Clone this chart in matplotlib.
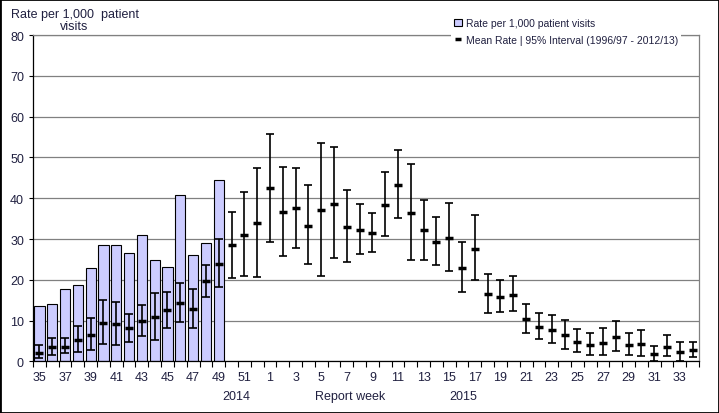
import numpy as np
import matplotlib
matplotlib.use('Agg')
import matplotlib.pyplot as plt
from matplotlib.patches import Patch, Rectangle
from matplotlib.lines import Line2D

plt.rcParams['font.family'] = ['Liberation Sans', 'DejaVu Sans']

# report weeks 35-52 of 2014 then 1-34 of 2015
weeks = list(range(35, 53)) + list(range(1, 35))

# rate per 1,000 patient visits (weeks 35-49 only)
rate = [13.5, 14.0, 17.7, 18.7, 22.8, 28.5, 28.5, 26.5, 30.9, 24.8, 23.1, 40.7, 26.0, 29.0, 44.4]

# mean rate 1996/97 - 2012/13
mean_rate = [2.2, 3.6, 3.6, 5.3, 6.6, 9.5, 9.3, 8.3, 10.0, 11.0, 12.7, 14.4, 12.9, 19.8, 24.0, 28.6, 31.1, 34.0,
             42.4, 36.7, 37.5, 33.3, 37.2, 38.7, 33.0, 32.3, 31.6, 38.4,
             43.3, 36.5, 32.1, 29.4, 30.3, 23.0, 27.6, 16.6, 15.9, 16.4,
             10.5, 8.5, 7.8, 6.6, 4.9, 4.1, 4.6, 6.1, 4.1, 4.4,
             1.9, 3.6, 2.4, 2.9]
upper = [4.0, 5.7, 5.7, 8.6, 10.7, 15.1, 14.7, 11.7, 13.9, 16.9, 17.1, 19.3, 17.8, 23.7, 29.9, 36.7, 41.5, 47.5,
         55.8, 47.6, 47.3, 43.2, 53.6, 52.5, 42.0, 38.5, 36.3, 46.4,
         51.8, 48.3, 39.5, 35.3, 38.8, 29.2, 35.8, 21.4, 19.9, 20.9,
         14.0, 11.8, 11.3, 10.1, 7.9, 6.9, 8.1, 9.9, 6.9, 7.6,
         3.7, 6.4, 4.7, 4.9]
lower = [0.8, 1.5, 2.0, 2.3, 2.7, 4.2, 4.0, 4.9, 6.2, 5.2, 8.1, 9.8, 8.1, 15.7, 18.2, 20.5, 21.0, 20.6,
         29.2, 25.8, 27.7, 23.8, 20.9, 25.3, 24.3, 26.3, 26.8, 30.7,
         35.1, 24.8, 24.8, 23.6, 22.1, 17.0, 19.9, 11.8, 12.1, 12.3,
         6.9, 5.4, 4.5, 3.0, 2.3, 1.5, 1.5, 2.5, 1.5, 1.3,
         0.2, 1.3, 0.2, 1.0]

txt = '#202040'

x = np.arange(len(weeks))
mean_rate = np.array(mean_rate)
yerr = [mean_rate - np.array(lower), np.array(upper) - mean_rate]

fig = plt.figure(figsize=(7.19, 4.14), dpi=100)
ax = fig.add_axes([0.0459, 0.1244, 0.9263, 0.7886])

ax.bar(x[:len(rate)], rate, width=0.8, color='#ccccff', edgecolor='black', linewidth=0.8, zorder=2)
ax.errorbar(x, mean_rate, yerr=yerr, fmt='none', ecolor='black', elinewidth=1.2,
            capsize=3.2, capthick=1.2, zorder=3)
ax.plot(x, mean_rate, ls='none', marker='_', ms=5.5, mew=2.5, color='black', zorder=4)

ax.set_xlim(-0.5, len(weeks) - 0.5)
ax.set_ylim(0, 80)
ax.set_yticks(range(0, 81, 10))
ax.yaxis.grid(True, color='#808080', lw=0.9)
ax.set_axisbelow(True)

# tick marks on category boundaries, labels on every second week
ax.set_xticks(np.arange(-0.5, len(weeks), 1))
ax.set_xticklabels([])
ax.set_xticks(x[::2], minor=True)
ax.set_xticklabels([str(w) for w in weeks[::2]], minor=True)
ax.tick_params(axis='x', which='major', length=4, width=0.8, direction='out')
ax.tick_params(axis='x', which='minor', length=0, pad=7, labelsize=9, labelcolor=txt)
ax.tick_params(axis='y', length=3, width=0.8, labelsize=9, labelcolor=txt)

for s in ['top', 'right']:
    ax.spines[s].set_color('#808080')
    ax.spines[s].set_linewidth(0.9)
ax.spines['left'].set_linewidth(0.9)
ax.spines['bottom'].set_linewidth(0.9)

# y axis title sits above the axis in two lines
fig.text(75 / 719, 1 - 15 / 414, 'Rate per 1,000  patient', ha='center', va='center',
         fontsize=9, color=txt)
fig.text(74 / 719, 1 - 27 / 414, 'visits', ha='center', va='center', fontsize=9, color=txt)

fig.text(236 / 719, 1 - 397 / 414, '2014', ha='center', va='center', fontsize=9, color=txt)
fig.text(350 / 719, 1 - 397 / 414, 'Report week', ha='center', va='center', fontsize=9, color=txt)
fig.text(463 / 719, 1 - 397 / 414, '2015', ha='center', va='center', fontsize=9, color=txt)

handles = [Patch(facecolor='#ccccff', edgecolor='black', linewidth=0.8),
           Line2D([], [], ls='none', marker='_', ms=5, mew=2.5, color='black')]
fig.legend(handles, ['Rate per 1,000 patient visits', 'Mean Rate | 95% Interval (1996/97 - 2012/13)'],
           loc='upper left', bbox_to_anchor=(446 / 719, 1 - 11 / 414), fontsize=7.5,
           frameon=True, facecolor='white', edgecolor='none', framealpha=1, fancybox=False,
           handlelength=0.7, handleheight=0.7, handletextpad=0.4, labelspacing=0.6,
           borderpad=0.3, labelcolor=txt)

fig.patches.append(Rectangle((0, 0), 1, 1, transform=fig.transFigure, fill=False,
                             edgecolor='black', lw=2))

fig.savefig('out.png', dpi=100)
